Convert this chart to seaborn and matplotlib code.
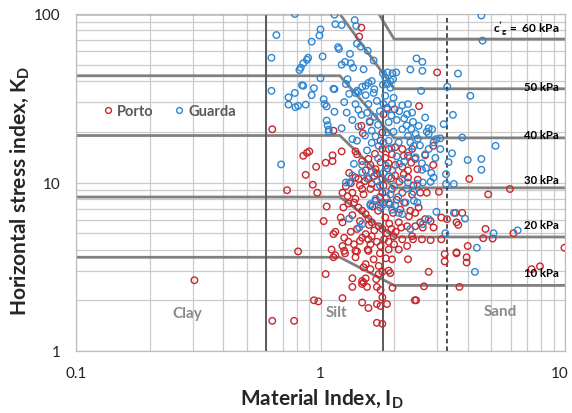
import matplotlib
matplotlib.use('Agg')
import matplotlib.pyplot as plt
import matplotlib.transforms as mtransforms
import numpy as np
import pandas as pd
import seaborn as sns
from matplotlib.lines import Line2D
from matplotlib.ticker import LogLocator, NullFormatter

# ---------------- data ----------------
porto_id = [0.305, 0.635, 0.78, 0.81, 0.635, 0.73, 1.47, 1.44, 3.0, 2.53, 1.47, 1.59, 1.49, 1.13,
            1.87, 2.01, 1.81, 1.79, 1.76, 1.79, 1.9, 1.96, 2.02, 2.16, 2.19, 2.28, 2.37, 2.02, 2.16,
            2.28, 1.57, 1.60, 1.68, 1.76, 1.84, 1.41, 1.48, 1.39, 1.12, 1.12, 1.22, 1.05, 0.96, 0.85,
            0.88, 0.9, 2.89, 2.68, 2.44, 2.89, 2.49, 0.87, 0.93, 0.97, 1.06, 1.03, 1.24, 1.21, 1.11,
            1.15, 1.13, 1.25, 1.23, 1.37, 1.56, 1.33, 1.41, 1.48, 1.57, 1.76, 1.9, 2.09, 2.26, 1.23,
            1.29, 1.35, 1.39, 1.37, 1.43, 1.48, 1.53, 1.57, 1.62, 1.73, 1.79, 1.87, 1.57, 1.62, 1.6,
            1.48, 1.5, 1.79, 1.81, 1.79, 2.02, 2.19, 2.28, 1.96, 2.16, 2.37, 2.09, 2.26, 2.37, 1.53,
            1.62, 1.7, 1.99, 1.9, 1.41, 2.16, 1.39, 1.43, 4.06, 4.85, 5.95, 3.05, 2.56, 2.72, 3.56,
            3.8, 3.6, 3.66, 3.12, 3.29, 4.73, 4.63, 5.06, 6.15, 2.39, 2.6, 2.82, 3.12, 4.0, 3.6, 9.95,
            2.82, 2.68, 2.56, 2.44, 2.62, 2.9, 2.33, 2.44, 2.52, 1.05, 0.94, 0.98, 1.23, 1.35, 1.35,
            1.48, 1.5, 1.53, 1.48, 1.55, 1.69, 1.7, 1.76, 1.79, 1.48, 1.57, 1.7, 1.76, 1.87, 1.7,
            1.79, 1.53, 1.5, 1.65, 1.73, 1.79, 1.9, 1.93, 1.97, 2.28, 1.96, 1.39, 1.57, 1.25, 1.13,
            1.15, 1.26, 1.39, 2.43, 1.6, 1.73, 3.22, 3.22, 3.6, 3.96, 3.96, 2.77, 2.65, 3.7, 2.46,
            7.3, 7.9, 1.23,
            1.27, 1.33, 1.45, 1.52, 1.66, 1.7, 1.75, 1.68, 1.63, 1.72, 1.8, 1.86, 1.92, 1.98, 2.05,
            2.12, 2.2, 2.3, 1.84, 1.91, 1.95, 2.03, 1.66, 1.58, 1.45, 1.35, 1.3, 1.31, 1.53, 1.88,
            1.7, 2.1, 2.4, 2.5, 1.95, 2.0, 1.82, 1.6, 1.45, 1.3, 2.14, 1.75, 1.85, 1.67, 1.9, 2.35]
porto_kd = [2.63, 1.51, 1.51, 3.9, 20.7, 9.0, 83, 73.5, 45, 28.4, 21.7, 23.1, 19.6, 20.3,
            27.7, 27.2, 25.4, 19.8, 17.7, 15.8, 15.8, 14.7, 16.2, 15.8, 14.4, 14.4, 15.8, 12.7, 12.4,
            11.8, 13.8, 12.7, 12.0, 13.2, 14.0, 14.7, 13.4, 15.3, 14.5, 13.4, 15.3, 13.1, 12.4, 14.4,
            15.0, 15.3, 16.5, 14.5, 13.8, 12.7, 12.0, 11.1, 9.7, 8.7, 7.2, 5.9, 7.1, 6.2, 4.0,
            5.1, 4.94, 4.7, 4.2, 4.3, 4.0, 5.1, 5.3, 4.7, 4.6, 4.2, 4.0, 4.0, 4.2, 8.7,
            8.3, 8.7, 8.0, 7.6, 7.1, 6.8, 6.5, 6.1, 5.8, 5.5, 5.3, 5.0, 10.5, 9.8, 9.15,
            9.15, 8.5, 10.5, 9.6, 8.7, 11.0, 11.2, 10.7, 9.15, 8.7, 8.5, 5.8, 5.5, 4.8, 4.94,
            4.8, 4.45, 4.8, 4.45, 3.9, 4.6, 10.7, 10.5, 10.5, 8.5, 9.15, 8.8, 8.7, 8.7, 6.6,
            6.6, 5.8, 5.6, 6.2, 6.06, 5.3, 4.67, 4.65, 5.0, 4.6, 4.6, 4.55, 4.6, 4.2, 3.85, 4.1,
            5.9, 6.06, 5.8, 5.5, 5.4, 5.4, 6.8, 6.6, 7.1, 2.86, 2.0, 1.97, 2.06, 2.7, 2.4,
            2.6, 2.55, 2.7, 2.5, 2.4, 2.67, 2.4, 2.3, 2.08, 1.94, 1.8, 1.9, 1.85, 1.9, 1.47,
            1.45, 3.28, 3.14, 3.5, 3.2, 2.95, 3.0, 2.9, 2.37, 3.5, 3.5, 3.93, 3.93, 3.93, 3.6,
            3.7, 3.8, 3.6, 2.0, 3.06, 2.86, 3.76, 3.4, 3.8, 3.6, 3.35, 2.95, 2.42, 2.4, 2.0,
            3.06, 3.18, 5.8,
            9.5, 9.9, 9.6, 10.2, 10.9, 9.4, 8.2, 7.8, 7.2, 6.8, 7.6, 8.1, 7.4, 6.6, 7.9,
            6.9, 7.6, 6.3, 6.2, 5.7, 5.3, 5.1, 5.2, 5.6, 5.9, 6.4, 7.5, 11.4, 11.8, 12.1,
            11.3, 10.1, 9.6, 10.4, 10.6, 4.3, 4.6, 4.3, 4.5, 4.45, 5.4, 3.8, 3.55, 14.8, 13.0, 13.1]

guarda_id = [0.63, 0.66, 0.785, 0.63, 0.74, 0.785, 0.74, 0.79, 0.81, 0.69, 1.14, 1.38, 1.15, 1.22,
             1.40, 1.41, 1.0, 0.99, 0.92, 1.18, 1.19, 1.32, 1.02, 0.89, 0.88, 0.85, 0.83, 0.82, 1.26,
             1.33, 1.22, 1.36, 1.50, 1.65, 1.0, 1.29, 1.80, 1.88, 1.97, 2.04, 2.33, 1.84, 1.93, 1.98,
             1.62, 1.57, 1.53, 1.48, 1.43, 1.39, 1.80, 1.88, 1.93, 1.66, 0.94, 0.85, 1.14, 4.55, 4.6,
             2.47, 2.61, 2.61, 3.65, 3.3, 2.58, 0.87, 0.92, 1.03, 1.04, 1.06, 1.14, 1.06, 1.07, 1.08,
             1.08, 1.22, 1.31, 1.41, 1.53, 1.65, 1.39, 1.47, 1.43, 1.55, 1.57, 1.59, 1.62, 1.35, 1.41,
             1.84, 1.81, 1.87, 1.96, 1.99, 2.16, 2.28, 2.26, 2.37, 1.9, 1.99, 2.16, 2.28, 2.33, 2.09,
             1.9, 1.81, 1.87, 1.37, 1.48, 4.1, 3.48, 3.19, 2.68, 2.39, 2.52, 2.77, 2.86, 2.72, 2.77,
             3.09, 3.8, 5.2, 2.98, 2.9, 3.09, 3.45, 3.34, 4.0, 4.55, 4.55, 2.77, 2.68, 2.41, 2.6,
             1.31, 1.27, 1.35, 1.48, 1.62, 1.81, 2.16, 2.28, 1.31, 1.9, 2.02, 2.09, 2.16, 1.96, 1.76,
             1.81, 2.33, 1.6, 1.68, 3.26, 3.26, 3.51, 2.84, 2.9, 2.82, 2.62, 2.49, 3.51, 3.9, 2.98,
             2.41, 2.49, 2.62, 2.77, 3.24, 5.1, 6.4, 4.36, 4.28, 1.48, 1.44, 1.6, 1.76, 2.23, 1.46,
             1.56, 1.13, 1.27, 0.84,
             1.66, 1.72, 1.75, 1.7, 1.95, 2.05, 2.1, 2.2, 2.25, 2.45, 2.35, 2.5, 1.68, 1.73, 1.95,
             2.05, 2.2, 2.3, 2.45, 1.85, 1.97, 2.1, 1.72, 1.55, 1.62, 1.52, 1.43, 1.35, 1.28, 1.25,
             1.55, 1.7, 1.9, 2.0, 2.25, 2.4, 1.85, 1.75, 2.6, 2.7, 2.55, 2.95, 2.08, 1.93]
guarda_kd = [55, 75, 100, 35, 32, 34, 29, 28, 28.5, 12.8, 99, 92, 87, 86,
             85, 66.7, 81, 74.5, 68.5, 63.5, 62, 58, 56, 55, 53.5, 51, 48, 46.5, 52,
             51, 50, 48, 47, 53, 41.6, 41, 44.5, 45, 44.5, 45, 46.8, 42, 40, 41,
             40, 39, 37.5, 37, 34.5, 34, 38, 38.4, 36.5, 35.8, 36.3, 37.5, 35.8, 98, 69.5,
             54.5, 52, 46, 44.3, 37, 35, 29, 33, 31.2, 29.2, 28.3, 26.3, 23.3, 21.9, 20.6,
             20.0, 21, 33.6, 35, 33, 34, 29.2, 25.2, 27, 25.9, 29.2, 22.8, 20.3, 18.1, 17.7,
             32.7, 29.2, 27.2, 29.2, 31.8, 28.7, 29.2, 25.4, 26, 22.8, 20, 20.7, 18.9, 17.3, 17.3,
             17.7, 17.3, 19.8, 12.9, 12.7, 32.7, 25.2, 22.2, 24.3, 22.9, 21.7, 21, 20.7, 20, 19.4,
             18.3, 18.5, 16.5, 18.1, 17.3, 15.8, 14.9, 13.2, 13.6, 13.8, 11.9, 15.8, 14.7, 16.5, 11.9,
             10.0, 10.0, 11.0, 11.5, 11.5, 11.4, 10.5, 10.0, 6.1, 7.6, 7.3, 6.6, 6.5, 6.9, 7.1,
             7.4, 5.3, 7.45, 8.0, 11.2, 9.8, 9.8, 11.4, 10.7, 10.1, 10.0, 9.8, 6.6, 6.1, 6.7,
             7.8, 7.6, 5.66, 6.06, 5.0, 5.0, 5.2, 4.1, 2.95, 5.66, 5.4, 7.3, 7.6, 7.6, 64,
             60.5, 36, 38.4, 37.8,
             24.5, 22, 26.5, 30.5, 25, 23.5, 26.5, 24, 21.8, 19.5, 20.8, 18.2, 18.8, 16.5, 16,
             14.3, 13.3, 15.2, 14.1, 12.6, 11.8, 12.9, 13.9, 15.5, 17.2, 19, 21.5, 23.5, 26, 30,
             10.6, 10.2, 10.8, 9.5, 9.2, 8.8, 8.8, 9.6, 13, 12.2, 16.6, 14, 8.2, 8.5]

# c'g iso-lines (kPa): K_D level at low I_D and at high I_D, bends at I_D = 1.2 and 2.0
cg_names = ['10 kPa', '20 kPa', '30 kPa', '40 kPa', '50 kPa', '60 kPa']
cg_kd_low = [3.6, 8.2, 19.0, 43.0, 100.0, 240.0]
cg_kd_high = [2.45, 4.75, 9.3, 18.4, 36.0, 71.0]
cg_id_nodes = [0.1, 1.2, 2.0, 10.0]

soil_boundaries = [0.6, 1.8, 3.3]
soil_names = ['Clay', 'Silt', 'Sand']

x_ticks = [0.1, 1, 10]
x_ticklabels = ['0.1', '1', '10']
y_ticks = [1, 10, 100]
y_ticklabels = ['1', '10', '100']

# ---------------- style ----------------
sns.set_style('white')
plt.rcParams['font.family'] = ['Lato', 'DejaVu Sans']
plt.rcParams['mathtext.fontset'] = 'custom'
plt.rcParams['mathtext.rm'] = 'Lato'
plt.rcParams['mathtext.bf'] = 'Lato:bold'
plt.rcParams['mathtext.it'] = 'Lato:italic'

RED = '#C8282D'
BLUE = '#2F86D1'
CURVE = '#808080'

fig = plt.figure(figsize=(5.72, 4.14), dpi=100)
ax = fig.add_axes([76 / 572, 1 - 352 / 414, 489 / 572, 337 / 414])
ax.set_xscale('log')
ax.set_yscale('log')
ax.set_xlim(0.1, 10)
ax.set_ylim(1, 100)

ax.xaxis.set_minor_locator(LogLocator(base=10, subs=np.arange(2, 10)))
ax.yaxis.set_minor_locator(LogLocator(base=10, subs=np.arange(2, 10)))
ax.xaxis.set_minor_formatter(NullFormatter())
ax.yaxis.set_minor_formatter(NullFormatter())
ax.set_xticks(x_ticks)
ax.set_xticklabels(x_ticklabels)
ax.set_yticks(y_ticks)
ax.set_yticklabels(y_ticklabels)
ax.tick_params(which='both', length=0, labelsize=11, colors='#222222')
ax.tick_params(axis='x', pad=11)
ax.tick_params(axis='y', pad=11)
ax.grid(which='both', color='#cbcbcb', lw=0.9, zorder=0)
ax.set_axisbelow(True)
for s in ax.spines.values():
    s.set_color('#bdbdbd')
    s.set_linewidth(0.9)

# keep the right-most x tick label inside the figure
last = ax.get_xticklabels()[-1]
last.set_transform(last.get_transform() + mtransforms.ScaledTranslation(-4 / 72, 0, fig.dpi_scale_trans))

# c'g curves
for lo, hi in zip(cg_kd_low, cg_kd_high):
    ax.plot(cg_id_nodes, [lo, lo, hi, hi], color=CURVE, lw=2.0, zorder=2,
            solid_capstyle='butt', solid_joinstyle='miter')

# soil boundaries
ax.axvline(soil_boundaries[0], color='#595959', lw=1.4, zorder=2)
ax.axvline(soil_boundaries[1], color='#595959', lw=1.4, zorder=2)
ax.axvline(soil_boundaries[2], color='#222222', lw=1.1, ls=(0, (3, 2)), zorder=2)

# scatter
dfp = pd.DataFrame({'ID': porto_id, 'KD': porto_kd})
dfg = pd.DataFrame({'ID': guarda_id, 'KD': guarda_kd})
for df, col in [(dfp, RED), (dfg, BLUE)]:
    sns.scatterplot(data=df, x='ID', y='KD', ax=ax, color=col, s=22, linewidth=1.0,
                    legend=False, zorder=3)
    pc = ax.collections[-1]
    pc.set_facecolor('none')
    pc.set_edgecolor(col)
    pc.set_linewidth(1.0)

# soil labels
soil_pos = [(0.285, 1.68), (1.16, 1.70), (5.45, 1.73)]
for name, (xx, yy) in zip(soil_names, soil_pos):
    ax.text(xx, yy, name, color='#8a8a8a', fontsize=11, fontweight='bold',
            ha='center', va='center', zorder=4)

# c'g labels
lab_y = [2.93, 5.62, 10.4, 19.2, 37.2]
xr = (559 - 76) / 489
for name, yy in zip(cg_names[:5], lab_y):
    ax.text(xr, yy, name, transform=ax.get_yaxis_transform(), ha='right', va='center',
            fontsize=8.2, fontweight='bold', color='black', zorder=5)
ax.text(xr, 83.4, r"$\mathbf{c'_{g}}$ =  " + cg_names[5], transform=ax.get_yaxis_transform(),
        ha='right', va='center', fontsize=8.5, fontweight='bold', color='black', zorder=5)

# legend
handles = [Line2D([], [], ls='', marker='o', ms=4.2, mfc='none', mec=RED, mew=1.0),
           Line2D([], [], ls='', marker='o', ms=4.2, mfc='none', mec=BLUE, mew=1.0)]
ax.legend(handles, ['Porto', 'Guarda'], ncol=2, frameon=False, loc='center',
          bbox_to_anchor=((168 - 76) / 489, 1 - (112 - 15) / 337),
          prop=dict(weight='bold', size=10.5), labelcolor='#595959',
          handletextpad=0.1, columnspacing=1.3, handlelength=1.0)

ax.set_xlabel(r'Material Index, $\mathbf{I_D}$', fontsize=15, fontweight='bold')
ax.set_ylabel(r'Horizontal stress index, $\mathbf{K_D}$', fontsize=15, fontweight='bold')
ax.xaxis.set_label_coords((322 - 76) / 489, -(387 - 352) / 337)
ax.yaxis.set_label_coords(-(76 - 31) / 489, 1 - (191 - 15) / 337)

fig.savefig('out.png', dpi=100)
